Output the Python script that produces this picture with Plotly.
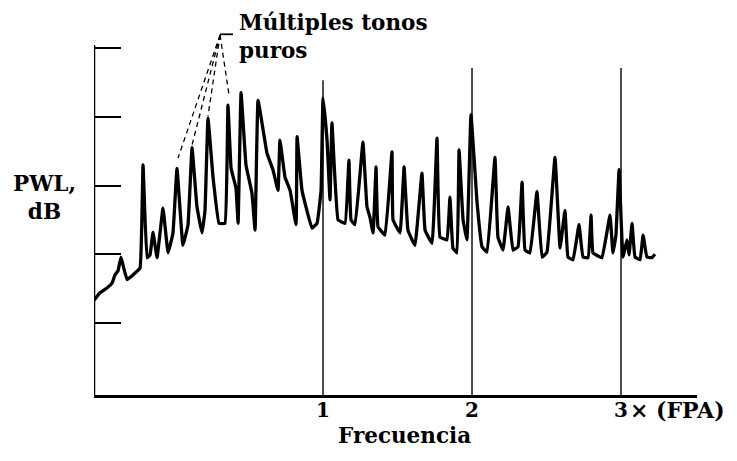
import plotly.graph_objects as go

# Spectrum trace: frequency (multiples of blade-passing frequency, FPA) and level (dB)
freq = [-0.537, -0.497, -0.450, -0.416, -0.396, -0.376, -0.356, -0.342, -0.315, -0.275,
        -0.228, -0.208, -0.181, -0.161, -0.141, -0.114, -0.074, -0.040, -0.007, 0.020,
        0.060, 0.094, 0.121, 0.154, 0.188, 0.208, 0.228, 0.262, 0.302, 0.342,
        0.362, 0.383, 0.416, 0.430, 0.450, 0.483, 0.523, 0.544, 0.564, 0.624,
        0.664, 0.698, 0.711, 0.745, 0.779, 0.819, 0.826, 0.859, 0.926, 0.960,
        0.987, 1.000, 1.027, 1.047, 1.060, 1.101, 1.148, 1.174, 1.188, 1.215,
        1.268, 1.295, 1.315, 1.336, 1.356, 1.369, 1.416, 1.463, 1.470, 1.517,
        1.544, 1.570, 1.617, 1.664, 1.685, 1.732, 1.765, 1.785, 1.832, 1.852,
        1.872, 1.899, 1.913, 1.940, 1.966, 1.993, 2.034, 2.067, 2.101, 2.154,
        2.174, 2.208, 2.242, 2.275, 2.309, 2.336, 2.356, 2.389, 2.436, 2.470,
        2.503, 2.557, 2.591, 2.624, 2.644, 2.678, 2.718, 2.745, 2.779, 2.799,
        2.812, 2.872, 2.926, 2.946, 2.966, 2.987, 3.013, 3.040, 3.054, 3.074,
        3.094, 3.128, 3.148, 3.174, 3.208, 3.228]
level = [13.3, 14.4, 15.1, 15.8, 17.0, 17.6, 19.6, 18.4, 16.3, 17.0,
         18.0, 33.0, 19.5, 19.9, 23.2, 19.5, 26.7, 20.2, 23.1, 32.5,
         21.3, 24.3, 35.5, 26.9, 23.1, 26.4, 39.8, 31.2, 24.5, 24.5,
         41.7, 32.5, 29.6, 24.5, 43.5, 33.0, 28.9, 23.5, 42.4, 34.7,
         32.3, 29.3, 36.6, 31.2, 29.3, 24.3, 37.1, 29.3, 23.8, 24.5,
         29.3, 42.7, 36.6, 27.9, 39.1, 25.0, 24.5, 33.7, 25.0, 24.3,
         36.3, 26.9, 25.4, 23.1, 32.7, 24.0, 22.8, 34.9, 25.0, 23.1,
         32.7, 23.5, 21.3, 31.8, 23.5, 21.6, 36.9, 22.5, 22.1, 28.3,
         20.9, 20.2, 35.2, 25.0, 22.1, 40.3, 27.5, 21.1, 20.3, 34.1,
         22.5, 20.6, 26.9, 20.6, 21.1, 30.5, 20.6, 20.2, 29.1, 19.6,
         20.3, 34.1, 20.9, 26.4, 19.6, 19.2, 24.3, 19.6, 19.5, 25.7,
         20.2, 19.5, 25.7, 20.2, 22.8, 32.3, 19.6, 22.1, 19.9, 24.5,
         19.6, 19.2, 22.8, 19.6, 19.5, 20.0]

# Harmonic markers (1, 2, 3 x FPA) and the height of their thin vertical lines
harmonics = [1, 2, 3]
harmonic_top = [45.3, 47.1, 47.1]
harmonic_labels = ["1", "2", "3"]

# Y-axis tick levels (unlabelled) in dB
y_ticks = [10, 20, 30, 40, 50]

# Leader lines for "Múltiples tonos puros"
leader_apex = (0.309, 51.9)
leader_ends_f = [0.027, 0.121, 0.228, 0.369]
leader_ends_l = [34.0, 35.9, 40.1, 43.2]
leader_bar_f = [0.309, 0.396]
leader_bar_l = 52.0

X_RANGE = [-0.537, 3.51]
Y_RANGE = [-0.47, 56.26]
Y_AXIS_TOP = 50.44

FONT = "DejaVu Serif"


def px_(f):
    return (f - X_RANGE[0]) / (X_RANGE[1] - X_RANGE[0])


def py_(l):
    return (l - Y_RANGE[0]) / (Y_RANGE[1] - Y_RANGE[0])


fig = go.Figure()

# thin vertical lines at harmonics
vx, vy = [], []
for h, t in zip(harmonics, harmonic_top):
    vx += [h, h, None]
    vy += [Y_RANGE[0], t, None]
fig.add_trace(go.Scatter(x=vx, y=vy, mode="lines",
                         line=dict(color="black", width=1.4),
                         hoverinfo="skip", showlegend=False))

# spectrum
fig.add_trace(go.Scatter(x=freq, y=level, mode="lines",
                         line=dict(color="black", width=3.3, shape="spline", smoothing=0.25),
                         showlegend=False))

# dashed leaders
dx, dy = [], []
for f, l in zip(leader_ends_f, leader_ends_l):
    dx += [leader_apex[0], f, None]
    dy += [leader_apex[1], l, None]
fig.add_trace(go.Scatter(x=dx, y=dy, mode="lines",
                         line=dict(color="black", width=1.3, dash="5px,4px"),
                         hoverinfo="skip", showlegend=False))
fig.add_trace(go.Scatter(x=leader_bar_f, y=[leader_bar_l, leader_bar_l], mode="lines",
                         line=dict(color="black", width=1.8),
                         hoverinfo="skip", showlegend=False))

# y axis line
fig.add_shape(type="line", xref="x", yref="y",
              x0=X_RANGE[0], x1=X_RANGE[0], y0=Y_RANGE[0], y1=Y_AXIS_TOP,
              line=dict(color="black", width=2.5))

font_bold = dict(family=FONT, size=21.5, color="black", weight="bold")
font_tick = dict(family=FONT, size=20, color="black", weight="bold")
font_unit = dict(family=FONT, size=22, color="black", weight="bold")


def note(text, f, l, xanchor="center", yanchor="middle", align="center", font=font_bold):
    fig.add_annotation(x=px_(f), y=py_(l), xref="paper", yref="paper",
                       xanchor=xanchor, yanchor=yanchor, text=text,
                       showarrow=False, align=align, font=font)


note("Múltiples tonos<br>puros", 0.42, 55.8, xanchor="left", yanchor="top", align="left")
note("PWL,<br>dB", -0.872, 28.2)
for h, lab in zip(harmonics, harmonic_labels):
    note(lab, h, -2.6, font=font_tick)
note("× (FPA)", 3.045, -2.6, xanchor="left", font=font_unit)
note("Frecuencia", 1.55, -6.4)

fig.update_layout(
    width=737, height=461,
    margin=dict(l=94, r=40, t=5, b=66),
    paper_bgcolor="white", plot_bgcolor="white",
    xaxis=dict(range=X_RANGE, showgrid=False, zeroline=False,
               showline=True, linecolor="black", linewidth=2.5,
               showticklabels=False, ticks=""),
    yaxis=dict(range=Y_RANGE, showgrid=False, zeroline=False,
               showline=False, tickmode="array", tickvals=y_ticks,
               ticks="inside", ticklen=27, tickwidth=2, tickcolor="black",
               showticklabels=False),
)

fig.write_html("out.html")
